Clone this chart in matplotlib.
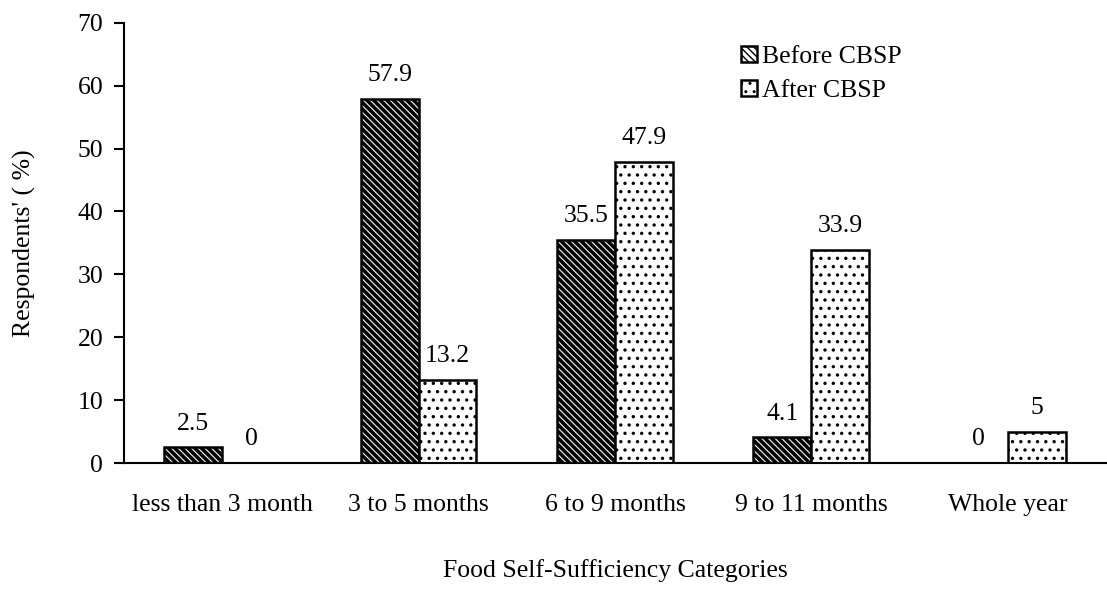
import matplotlib
matplotlib.use("Agg")
import matplotlib.pyplot as plt
import numpy as np

categories = ["less than 3 month", "3 to 5 months", "6 to 9 months", "9 to 11 months", "Whole year"]
before = [2.5, 57.9, 35.5, 4.1, 0]
after = [0, 13.2, 47.9, 33.9, 5]
before_labels = ["2.5", "57.9", "35.5", "4.1", "0"]
after_labels = ["0", "13.2", "47.9", "33.9", "5"]

plt.rcParams['font.family'] = ['Liberation Serif', 'DejaVu Serif']

FS = 18.5
fig = plt.figure(figsize=(11.07, 5.99), dpi=100)
ax = fig.add_axes([0.112, 0.227, 0.887, 0.735])

x = np.arange(len(categories))
w = 0.295
with plt.rc_context({'hatch.linewidth': 2.6}):
    ax.bar(x - w/2, before, w, facecolor='white', edgecolor='black', linewidth=1.8,
           hatch='\\\\\\\\\\', label='Before CBSP')
with plt.rc_context({'hatch.linewidth': 1.2}):
    ax.bar(x + w/2, after, w, facecolor='white', edgecolor='black', linewidth=1.8,
           hatch='..', label='After CBSP')

for xi, v, lab in zip(x - w/2, before, before_labels):
    ax.text(xi, v + 2.0, lab, ha='center', va='bottom', fontsize=FS)
for xi, v, lab in zip(x + w/2, after, after_labels):
    ax.text(xi, v + 2.0, lab, ha='center', va='bottom', fontsize=FS)

ax.set_xlim(-0.5, len(categories) - 0.5)
ax.set_ylim(0, 70)
ax.set_yticks(range(0, 71, 10))
ax.set_xticks(x)
ax.set_xticklabels(categories, fontsize=FS)
ax.tick_params(axis='y', labelsize=FS, length=7, width=1.5, direction='out', pad=8)
ax.tick_params(axis='x', length=0, pad=22)
for s in ['top', 'right']:
    ax.spines[s].set_visible(False)
ax.spines['left'].set_linewidth(1.5)
ax.spines['bottom'].set_linewidth(1.5)

ax.set_ylabel("Respondents' ( %)", fontsize=FS, labelpad=30)
ax.set_xlabel("Food Self-Sufficiency Categories", fontsize=FS, labelpad=31)

ax.legend(loc='upper left', bbox_to_anchor=(0.605, 1.0), frameon=False, fontsize=FS,
          handlelength=0.6, handleheight=0.6, handletextpad=0.2, labelspacing=0.45)

fig.savefig("out.png", dpi=100)
